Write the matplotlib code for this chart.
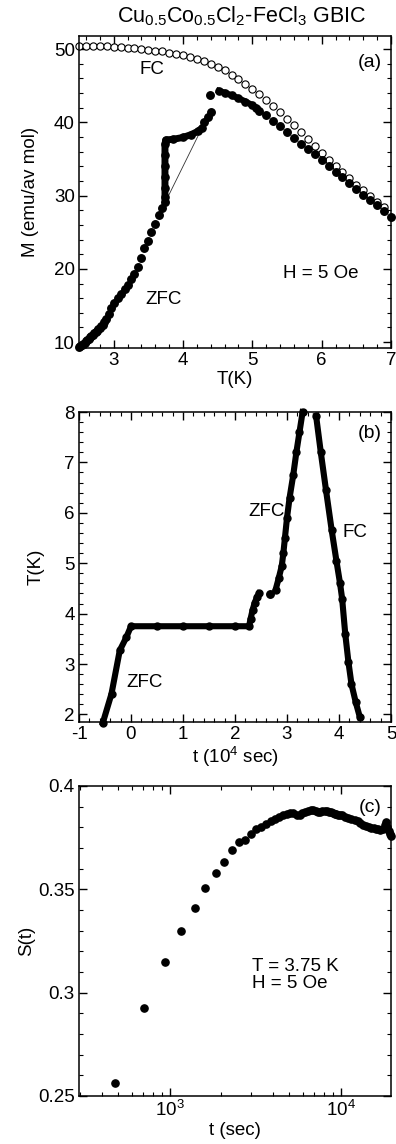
import numpy as np
import matplotlib
matplotlib.use('Agg')
import matplotlib.pyplot as plt
from matplotlib.ticker import MultipleLocator, FuncFormatter, LogLocator

plt.rcParams['font.family'] = ['Liberation Sans', 'DejaVu Sans']
plt.rcParams['mathtext.fontset'] = 'custom'
plt.rcParams['mathtext.rm'] = 'Liberation Sans'
plt.rcParams['mathtext.it'] = 'Liberation Sans:italic'
plt.rcParams['mathtext.default'] = 'regular'
plt.rcParams['axes.unicode_minus'] = False
plt.rcParams['font.size'] = 13.5

# (a) FC magnetization, open circles
fc_T = [2.5, 2.6, 2.7, 2.8, 2.9, 3.0, 3.1, 3.2, 3.3, 3.4, 3.5, 3.6, 3.7, 3.8, 3.9,
        4.0, 4.1, 4.2, 4.3, 4.4, 4.5, 4.6, 4.7, 4.8, 4.9, 5.0, 5.1, 5.2, 5.3, 5.4,
        5.5, 5.6, 5.7, 5.8, 5.9, 6.0, 6.1, 6.2, 6.3, 6.4, 6.5, 6.6, 6.7, 6.8, 6.9]
fc_M = [50.5, 50.5, 50.45, 50.4, 50.4, 50.35, 50.3, 50.2, 50.15, 50.05, 49.95, 49.8,
        49.7, 49.5, 49.35, 49.15, 48.9, 48.65, 48.35, 48.0, 47.6, 47.1, 46.5, 45.9,
        45.3, 44.6, 43.9, 43.1, 42.3, 41.4, 40.5, 39.6, 38.7, 37.7, 36.8, 35.8, 34.9,
        34.0, 33.2, 32.4, 31.5, 30.8, 30.0, 29.2, 28.4]

# (a) ZFC magnetization, separate points
zfc_T = [2.50, 2.52, 2.54, 2.56, 2.58, 2.60, 2.62, 2.64, 2.66, 2.68, 2.70, 2.72, 2.74,
         2.76, 2.78, 2.80, 2.82, 2.84, 2.86, 2.89, 2.93, 2.96, 3.01, 3.06, 3.11, 3.16,
         3.20, 3.25, 3.30, 3.35, 3.39, 3.44, 3.49, 3.54, 3.59, 3.65, 3.70, 3.74,
         4.31, 4.36, 4.40, 4.39,
         5.1, 5.2, 5.3, 5.4, 5.5, 5.6, 5.7, 5.8, 5.9, 6.0, 6.1, 6.2, 6.3, 6.4, 6.5,
         6.6, 6.7, 6.8, 6.9, 7.0]
zfc_M = [9.3, 9.45, 9.6, 9.8, 9.95, 10.1, 10.3, 10.45, 10.65, 10.8, 11.0, 11.2, 11.4,
         11.55, 11.75, 11.95, 12.15, 12.4, 12.7, 13.2, 13.9, 14.6, 15.3, 16.0, 16.55,
         17.2, 17.8, 18.6, 19.3, 20.3, 21.5, 22.8, 23.8, 25.1, 26.1, 27.3, 28.3, 29.1,
         40.0, 40.7, 41.4, 43.7,
         41.6, 40.95, 40.25, 39.5, 38.7, 37.9, 37.1, 36.4, 35.7, 34.9, 34.0, 33.2, 32.5,
         31.7, 30.9, 30.1, 29.4, 28.7, 27.9, 27.1]

# (a) relaxation at 3.75 K then warming (dense)
relax_T = [3.74, 3.74, 3.74, 3.74, 3.74, 3.74, 3.75, 3.86, 4.00, 4.12, 4.22, 4.27]
relax_M = [29.8, 31.0, 32.5, 34.0, 35.5, 37.0, 37.6, 37.7, 37.95, 38.35, 38.8, 39.2]
# (a) dense ZFC segment above the jump
hi_T = [4.52, 4.6, 4.7, 4.8, 4.9, 5.0, 5.06]
hi_M = [44.3, 44.05, 43.7, 43.3, 42.85, 42.35, 42.0]
# (a) thin connecting line
link_T = [3.76, 4.24]
link_M = [29.4, 38.6]

# (b) temperature history
b1_t = [-0.54, -0.375, -0.216, -0.09, 0.0, 0.5, 1.0, 1.5, 2.0, 2.27, 2.30, 2.34, 2.38, 2.42, 2.46]
b1_T = [1.84, 2.41, 3.27, 3.53, 3.75, 3.75, 3.75, 3.75, 3.75, 3.75, 3.9, 4.08, 4.22, 4.32, 4.40]
b_dot_t = [2.67]
b_dot_T = [4.38]
b2_t = [2.78, 2.84, 2.90, 2.93, 2.96, 3.0, 3.05, 3.12, 3.18, 3.24, 3.30]
b2_T = [4.47, 4.7, 4.95, 5.2, 5.5, 5.9, 6.3, 6.75, 7.2, 7.6, 8.0]
b3_t = [3.56, 3.65, 3.75, 3.86, 3.95, 4.02, 4.06, 4.12, 4.18, 4.24, 4.32, 4.40]
b3_T = [7.92, 7.2, 6.45, 5.65, 5.05, 4.6, 4.3, 3.6, 3.05, 2.6, 2.25, 1.95]

# (c) relaxation rate S(t)
s_t = [481, 708, 940, 1166, 1400, 1617, 1852, 2083, 2309, 2537, 2766, 3000, 3210, 3434,
       3660, 3890, 4120, 4350, 4580, 4810, 5040, 5270, 5500, 5730, 5960, 6190, 6420,
       6650, 6880, 7110, 7340, 7570, 7800, 8030, 8260, 8490, 8720, 8950, 9180, 9410,
       9640, 9870, 10100, 10500, 11000, 11500, 12000, 12500, 13000, 13500, 14000,
       14500, 15000, 15500, 16000, 16500, 17000, 17500, 18000, 18300, 18600, 19000,
       19400, 19600]
s_S = [0.2565, 0.2925, 0.3146, 0.330, 0.341, 0.3508, 0.3577, 0.3633, 0.3688, 0.3728,
       0.3741, 0.3769, 0.3790, 0.3803, 0.3815, 0.3830, 0.3840, 0.3850, 0.3858, 0.3865,
       0.3870, 0.3868, 0.3860, 0.3862, 0.3870, 0.3876, 0.3880, 0.3884, 0.3882, 0.3878,
       0.3876, 0.3875, 0.3877, 0.3879, 0.3878, 0.3876, 0.3872, 0.3868, 0.3866, 0.3863,
       0.3860, 0.3862, 0.3858, 0.3852, 0.3845, 0.3840, 0.3835, 0.3830, 0.3822, 0.3812,
       0.3806, 0.3800, 0.3798, 0.3795, 0.3792, 0.3790, 0.3788, 0.3792, 0.3810, 0.3825,
       0.3800, 0.3782, 0.3770, 0.3760]

W, H = 396, 1144
fig = plt.figure(figsize=(W / 100, H / 100), dpi=100)


def box(l, t, r, b):
    return [l / W, 1 - b / H, (r - l) / W, (b - t) / H]


def style(ax):
    ax.tick_params(which='both', direction='in', top=True, right=True, labelsize=13.5)
    ax.tick_params(which='major', length=6, width=1, pad=3)
    ax.tick_params(which='minor', length=3, width=0.8)
    for s in ax.spines.values():
        s.set_linewidth(1.1)


gfmt = FuncFormatter(lambda v, p: '%g' % v)

# panel (a)
ax1 = fig.add_axes(box(79, 36, 391, 348))
ax1.plot(link_T, link_M, '-', color='#333333', lw=0.6)
ax1.plot(fc_T, fc_M, 'o', mfc='white', mec='black', ms=5.2, mew=0.8, clip_on=False)
ax1.plot(relax_T, relax_M, 'o-', color='black', ms=5.2, lw=5, clip_on=False)
ax1.plot(hi_T, hi_M, 'o-', color='black', ms=5.2, lw=4.5, clip_on=False)
ax1.plot(zfc_T, zfc_M, 'o', color='black', ms=5.4, clip_on=False)
ax1.set_xlim(2.5, 7)
ax1.set_ylim(9.2, 51.8)
ax1.xaxis.set_major_locator(MultipleLocator(1))
ax1.xaxis.set_minor_locator(MultipleLocator(0.2))
ax1.yaxis.set_major_locator(MultipleLocator(10))
ax1.yaxis.set_minor_locator(MultipleLocator(2))
style(ax1)
ax1.set_xlabel('T(K)', labelpad=1)
ax1.set_ylabel('M (emu/av mol)', labelpad=11)
ax1.text(3.55, 47.2, 'FC', ha='center', va='center')
ax1.text(3.72, 15.8, 'ZFC', ha='center', va='center')
ax1.text(5.98, 19.4, 'H = 5 Oe', ha='center', va='center')
ax1.text(0.97, 0.915, '(a)', transform=ax1.transAxes, ha='right', va='center', fontsize=14)

# panel (b)
ax2 = fig.add_axes(box(79, 412, 391, 722))
for tt, TT in [(b1_t, b1_T), (b2_t, b2_T), (b3_t, b3_T)]:
    ax2.plot(tt, TT, 'o-', color='black', ms=5, lw=4.4, clip_on=False)
ax2.plot(b_dot_t, b_dot_T, 'o', color='black', ms=5.4)
ax2.set_xlim(-1, 5)
ax2.set_ylim(1.85, 8)
ax2.xaxis.set_major_locator(MultipleLocator(1))
ax2.xaxis.set_minor_locator(MultipleLocator(0.2))
ax2.yaxis.set_major_locator(MultipleLocator(1))
ax2.yaxis.set_minor_locator(MultipleLocator(0.2))
style(ax2)
ax2.set_xlabel('t (10$^4$ sec)', labelpad=1)
ax2.set_ylabel('T(K)', labelpad=14)
ax2.text(2.6, 6.02, 'ZFC', ha='center', va='center')
ax2.text(4.3, 5.6, 'FC', ha='center', va='center')
ax2.text(0.26, 2.64, 'ZFC', ha='center', va='center')
ax2.text(0.97, 0.93, '(b)', transform=ax2.transAxes, ha='right', va='center', fontsize=14)

# panel (c)
ax3 = fig.add_axes(box(79, 786, 391, 1096))
ax3.plot(s_t, s_S, 'o', color='black', ms=5.2, clip_on=False)
ax3.set_xscale('log')
ax3.set_xlim(295, 19600)
ax3.set_ylim(0.25, 0.4)
ax3.xaxis.set_major_locator(LogLocator(base=10))
ax3.xaxis.set_minor_locator(LogLocator(base=10, subs=np.arange(2, 10)))
ax3.yaxis.set_major_locator(MultipleLocator(0.05))
ax3.yaxis.set_minor_locator(MultipleLocator(0.01))
ax3.yaxis.set_major_formatter(gfmt)
style(ax3)
ax3.set_xlabel('t (sec)', labelpad=1)
ax3.set_ylabel('S(t)', labelpad=2)
ax3.text(0.555, 0.39, 'T = 3.75 K\nH = 5 Oe', transform=ax3.transAxes, ha='left', va='center',
         linespacing=0.95)
ax3.text(0.97, 0.93, '(c)', transform=ax3.transAxes, ha='right', va='center', fontsize=14)

fig.text(242 / W, 1 - 16 / H, r'Cu$_{0.5}$Co$_{0.5}$Cl$_2$-FeCl$_3$ GBIC', ha='center', va='center',
         fontsize=15.5)

fig.savefig('out.png', dpi=100)
